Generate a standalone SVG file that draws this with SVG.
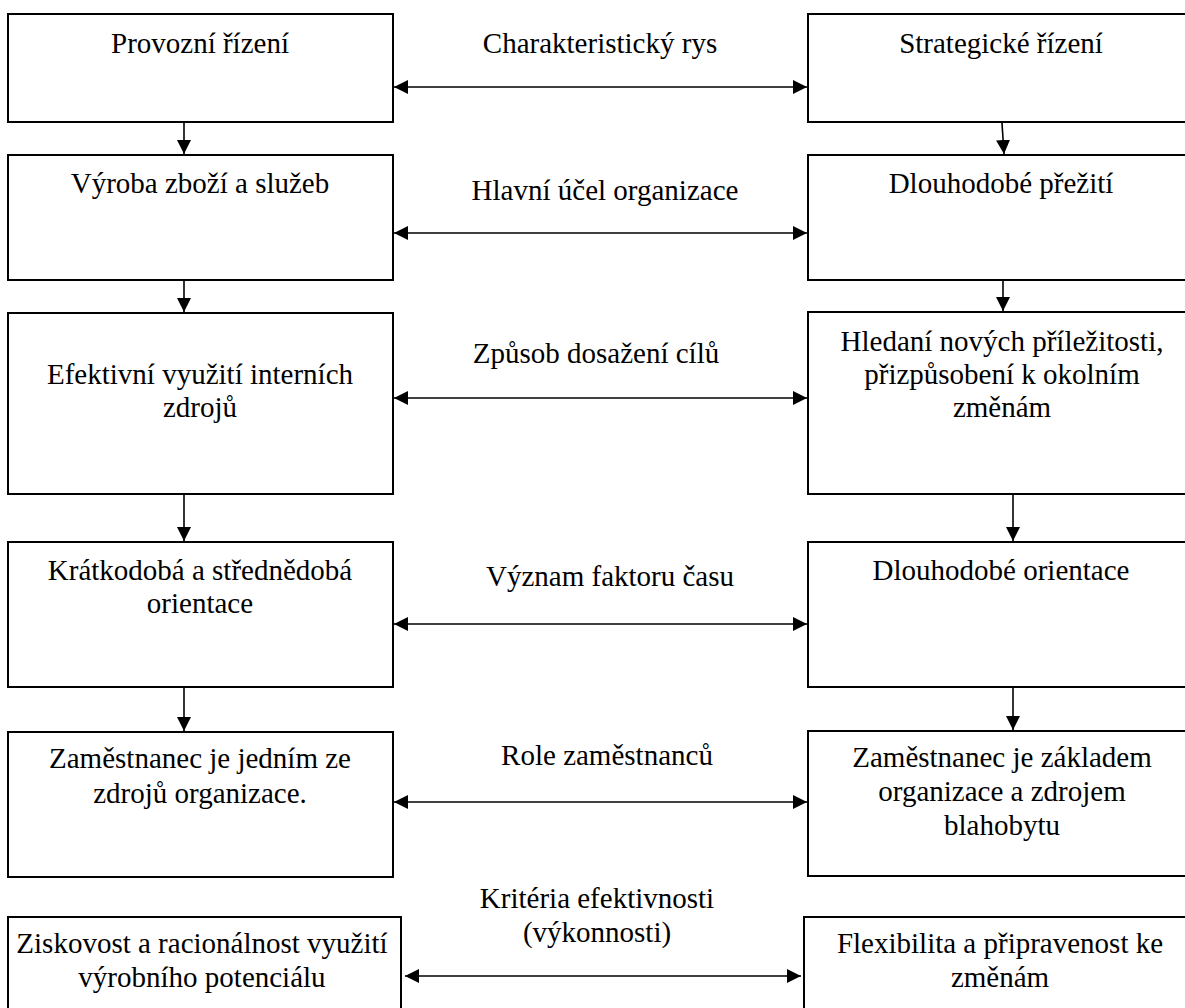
<svg xmlns="http://www.w3.org/2000/svg" width="1185" height="1008" viewBox="0 0 1185 1008">
<defs>
<style>
.box{fill:#fff;stroke:#000;stroke-width:2}
.t{font-family:'Liberation Serif','Times New Roman',serif;font-size:29px;fill:#000;text-anchor:middle}
.c{stroke:#000;stroke-width:1.6;fill:none}
</style>
<marker id="ah" viewBox="0 0 14 14" refX="14" refY="7" markerWidth="14" markerHeight="14" markerUnits="userSpaceOnUse" orient="auto-start-reverse">
<path d="M0,0 L14,7 L0,14 Z" fill="#000"/>
</marker>
</defs>
<rect width="1185" height="1008" fill="#fff"/>

<g id="l1"><rect class="box" x="8" y="14" width="385" height="108"/><text class="t" x="200" y="53">Provozní řízení</text></g>
<g id="l2"><rect class="box" x="8" y="155" width="385" height="125"/><text class="t" x="200" y="193">Výroba zboží a služeb</text></g>
<g id="l3"><rect class="box" x="8" y="313" width="385" height="181"/><text class="t" x="200" y="384">Efektivní využití interních</text><text class="t" x="200" y="417">zdrojů</text></g>
<g id="l4"><rect class="box" x="8" y="542" width="385" height="145"/><text class="t" x="200" y="580">Krátkodobá a střednědobá</text><text class="t" x="200" y="613">orientace</text></g>
<g id="l5"><rect class="box" x="8" y="732" width="385" height="145"/><text class="t" x="200" y="768">Zaměstnanec je jedním ze</text><text class="t" x="200" y="803">zdrojů organizace.</text></g>
<g id="l6"><rect class="box" x="8" y="917" width="393" height="100"/><text class="t" x="202" y="953">Ziskovost a racionálnost využití</text><text class="t" x="202" y="987">výrobního potenciálu</text></g>

<g id="r1"><rect class="box" x="808" y="14" width="386" height="108"/><text class="t" x="1001" y="53">Strategické řízení</text></g>
<g id="r2"><rect class="box" x="808" y="155" width="386" height="125"/><text class="t" x="1001" y="193">Dlouhodobé přežití</text></g>
<g id="r3"><rect class="box" x="808" y="312" width="386" height="182"/><text class="t" x="1002" y="351">Hledaní nových příležitosti,</text><text class="t" x="1002" y="384">přizpůsobení k okolním</text><text class="t" x="1002" y="417">změnám</text></g>
<g id="r4"><rect class="box" x="808" y="542" width="386" height="145"/><text class="t" x="1001" y="580">Dlouhodobé orientace</text></g>
<g id="r5"><rect class="box" x="808" y="731" width="386" height="145"/><text class="t" x="1002" y="767">Zaměstnanec je základem</text><text class="t" x="1002" y="801">organizace a zdrojem</text><text class="t" x="1002" y="835">blahobytu</text></g>
<g id="r6"><rect class="box" x="804" y="917" width="390" height="100"/><text class="t" x="1000" y="953">Flexibilita a připravenost ke</text><text class="t" x="1000" y="987">změnám</text></g>

<g id="m1"><text class="t" x="600" y="53">Charakteristický rys</text></g>
<g id="m2"><text class="t" x="605" y="200">Hlavní účel organizace</text></g>
<g id="m3"><text class="t" x="596" y="363">Způsob dosažení cílů</text></g>
<g id="m4"><text class="t" x="610" y="586">Význam faktoru času</text></g>
<g id="m5"><text class="t" x="607" y="765">Role zaměstnanců</text></g>
<g id="m6"><text class="t" x="597" y="908">Kritéria efektivnosti</text><text class="t" x="597" y="942">(výkonnosti)</text></g>

<g id="connectors">
<line class="c" x1="394" y1="87" x2="807" y2="87" marker-start="url(#ah)" marker-end="url(#ah)"/>
<line class="c" x1="394" y1="233" x2="807" y2="233" marker-start="url(#ah)" marker-end="url(#ah)"/>
<line class="c" x1="394" y1="398" x2="807" y2="398" marker-start="url(#ah)" marker-end="url(#ah)"/>
<line class="c" x1="394" y1="624" x2="807" y2="624" marker-start="url(#ah)" marker-end="url(#ah)"/>
<line class="c" x1="394" y1="802" x2="807" y2="802" marker-start="url(#ah)" marker-end="url(#ah)"/>
<line class="c" x1="405" y1="976" x2="801" y2="976" marker-start="url(#ah)" marker-end="url(#ah)"/>

<line class="c" x1="184" y1="123" x2="184" y2="154" marker-end="url(#ah)"/>
<line class="c" x1="184" y1="281" x2="184" y2="312" marker-end="url(#ah)"/>
<line class="c" x1="184" y1="495" x2="184" y2="541" marker-end="url(#ah)"/>
<line class="c" x1="184" y1="688" x2="184" y2="731" marker-end="url(#ah)"/>

<line class="c" x1="1002" y1="123" x2="1004" y2="154" marker-end="url(#ah)"/>
<line class="c" x1="1003" y1="281" x2="1003" y2="311" marker-end="url(#ah)"/>
<line class="c" x1="1013" y1="495" x2="1013" y2="541" marker-end="url(#ah)"/>
<line class="c" x1="1013" y1="688" x2="1013" y2="730" marker-end="url(#ah)"/>
</g>
</svg>
